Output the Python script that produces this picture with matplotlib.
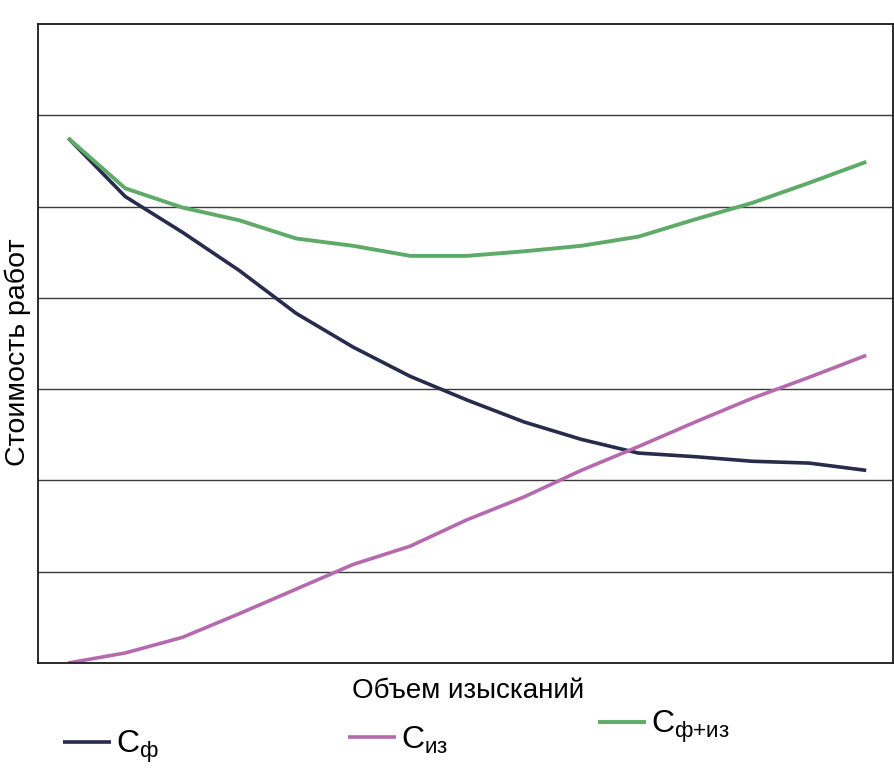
import numpy as np
import matplotlib
matplotlib.use('Agg')
import matplotlib.pyplot as plt

plt.rcParams['font.family'] = ['Liberation Sans', 'DejaVu Sans']
plt.rcParams['mathtext.fontset'] = 'custom'
plt.rcParams['mathtext.rm'] = 'Liberation Sans'
plt.rcParams['mathtext.it'] = 'Liberation Sans'

# объем изысканий (условные шаги) и стоимость работ (условные единицы)
steps = np.arange(15)
c_f = [5.75, 5.11, 4.72, 4.30, 3.83, 3.46, 3.14, 2.88, 2.64, 2.45, 2.30, 2.26, 2.21, 2.19, 2.11]
c_iz = [0.00, 0.11, 0.28, 0.54, 0.81, 1.08, 1.28, 1.57, 1.82, 2.11, 2.37, 2.64, 2.90, 3.13, 3.37]
c_sum = [5.75, 5.20, 4.99, 4.85, 4.65, 4.57, 4.46, 4.46, 4.51, 4.57, 4.67, 4.86, 5.04, 5.26, 5.49]

labels = [r'C$_{ф}$', r'C$_{из}$', r'C$_{ф{+}из}$']
colors = ['#282b4c', '#b56aae', '#5eab69']

fig = plt.figure(figsize=(8.95, 7.71), dpi=100)
ax = fig.add_axes([38/895, 1-663/771, 855/895, 639/771])

l1, = ax.plot(steps, c_f, color=colors[0], lw=2.6, solid_capstyle='butt')
l2, = ax.plot(steps, c_iz, color=colors[1], lw=2.6, solid_capstyle='butt')
l3, = ax.plot(steps, c_sum, color=colors[2], lw=2.8, solid_capstyle='butt')

ax.set_xlim(-0.53, 14.47)
ax.set_ylim(0, 7)
ax.set_xticks([])
ax.set_yticks(range(1, 7))
ax.tick_params(axis='y', length=0, labelleft=False)
ax.grid(axis='y', color='#3a3a3a', lw=1.0)
ax.set_axisbelow(True)
for s in ax.spines.values():
    s.set_color('#1a1a1a')
    s.set_linewidth(1.3)

fig.text(18/895, 1-352/771, 'Стоимость работ', rotation=90, ha='center', va='center', fontsize=20.5)
fig.text(468/895, 1-691/771, 'Объем изысканий', ha='center', va='center', fontsize=20)

pos = [(63, 747), (348, 740), (598, 727)]
for line, lab, (px, py) in zip([l1, l2, l3], labels, pos):
    fig.legend(handles=[line], labels=[lab], loc='center left',
               bbox_to_anchor=(px/895, 1-py/771), frameon=False, fontsize=23,
               handlelength=1.5, handletextpad=0.15, borderpad=0, borderaxespad=0)

fig.savefig('out.png', dpi=100)
